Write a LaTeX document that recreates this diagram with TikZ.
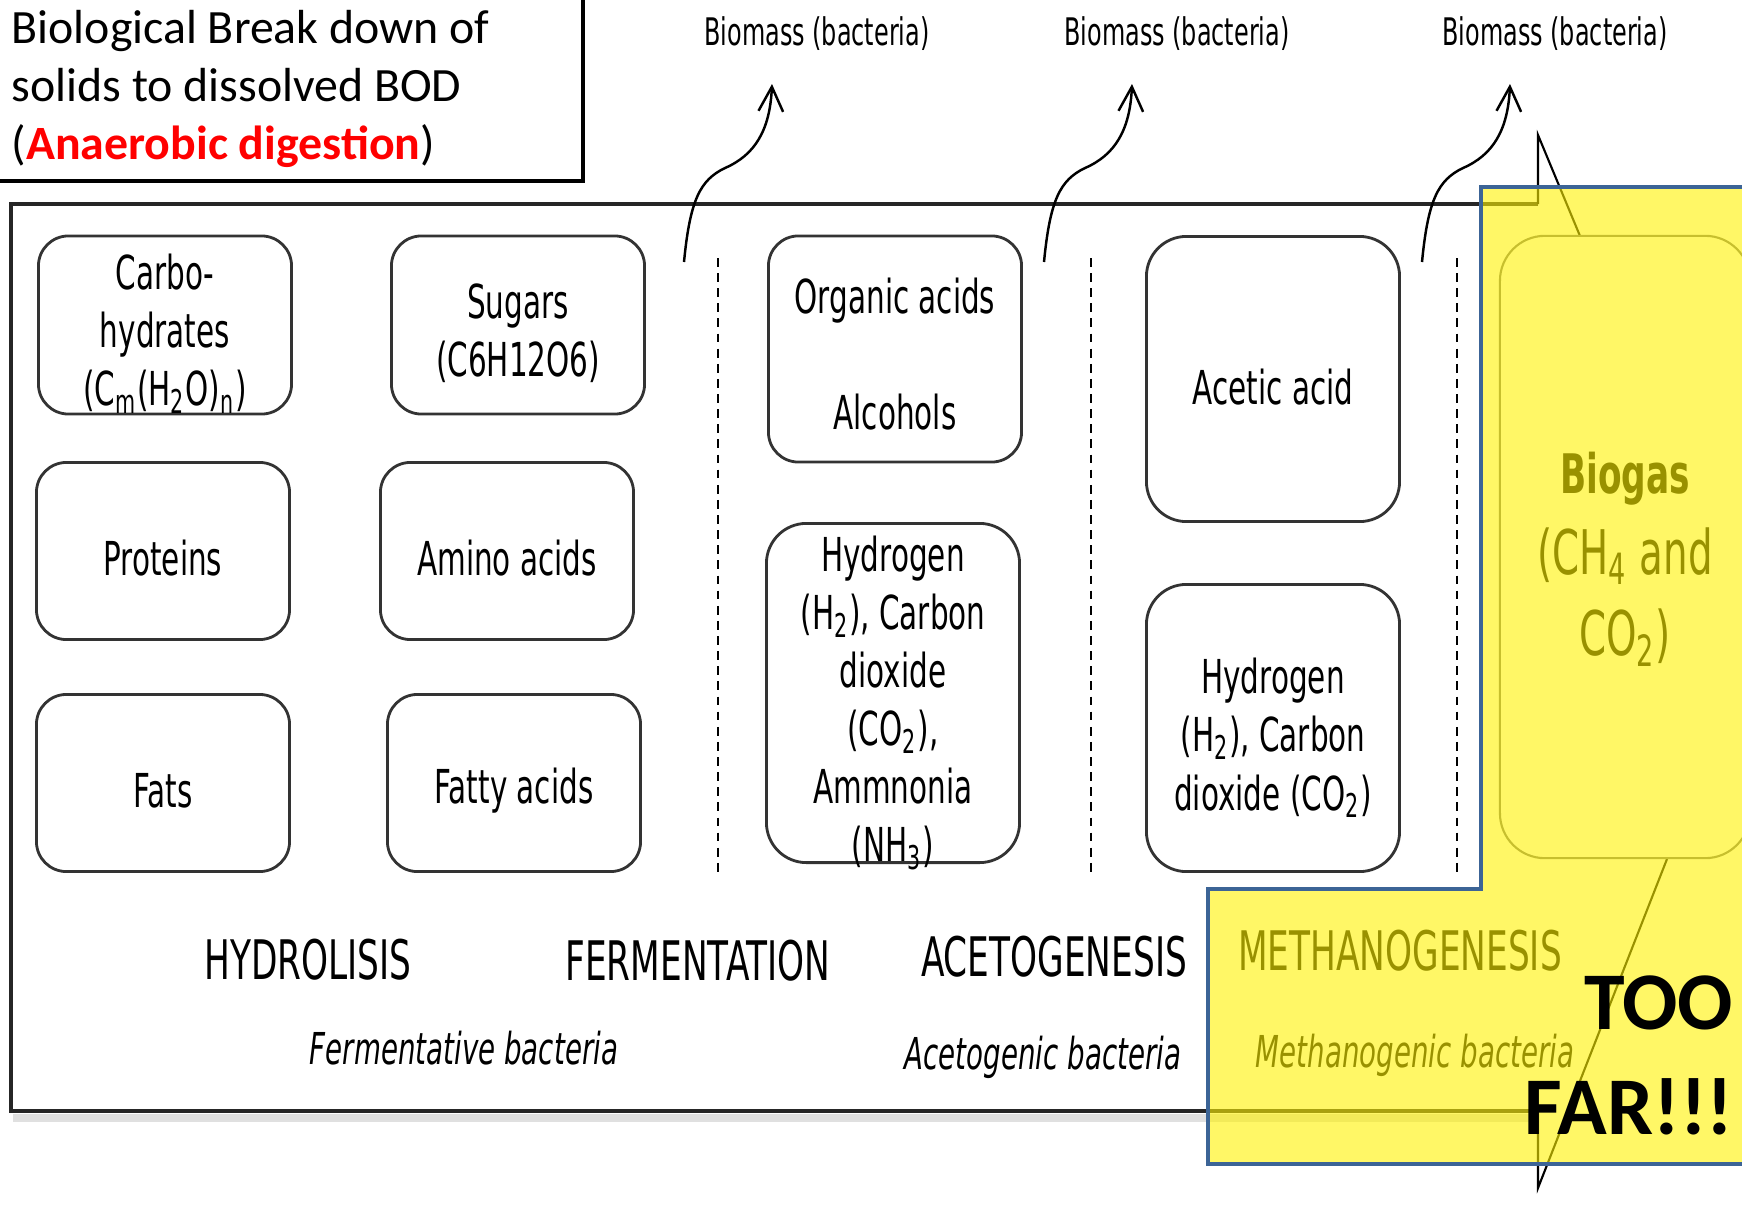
\documentclass[tikz,border=0pt]{standalone}
\usepackage{fontspec}
\setmainfont{Carlito}
\newfontfamily\dgfont[FakeStretch=0.63]{DejaVu Sans}
\usepackage{tikz}
\usetikzlibrary{arrows.meta}
\definecolor{calloutblue}{RGB}{60,100,150}
\definecolor{titlered}{RGB}{255,0,0}
\newcommand{\boxlift}[1][15pt]{\rule{0pt}{#1}}

\begin{document}
\begin{tikzpicture}[x=0.01cm,y=-0.01cm,
  stage/.style={draw=black!80,line width=0.8pt,rounded corners=0.3cm,align=center,inner sep=0pt,
    minimum width=2.53cm,font=\dgfont\fontsize{13.3}{16.5}\selectfont},
  phase/.style={anchor=base,font=\dgfont\fontsize{15.5}{18}\selectfont},
  microbes/.style={anchor=base,font=\dgfont\itshape\fontsize{12.5}{15}\selectfont},
  biomass/.style={anchor=base,font=\dgfont\fontsize{10.8}{12}\selectfont},
  upflow/.style={->,>={Straight Barb[length=7pt,width=7pt]},line width=0.7pt},
  sep/.style={dash pattern=on 2.5pt off 1.8pt,line width=0.6pt}]
\useasboundingbox (0,0) rectangle (1742,1221);
\clip (0,0) rectangle (1742,1221);
% Title box
\draw[line width=0.9pt] (-5,-5) rectangle (583,181);
\node[anchor=north west,align=left,inner sep=0pt,font=\fontsize{13.6}{16.4}\selectfont] (title) at (11,10)
  {Biological Break down of\\solids to dissolved BOD\\(\textcolor{titlered}{\bfseries Anaerobic digestion})};
% Frame
\draw[line width=2.5pt,black!12] (13,1118) -- (1538,1118);
\draw[line width=1.1pt,black!85] (1538,204) -- (11,204) -- (11,1111) -- (1538,1111);
\draw[line width=0.6pt] (1580,236) -- (1538,135) -- (1538,204);
\draw[line width=0.6pt] (1538,1111) -- (1538,1188) -- (1667,859);
% Separators
\foreach \x in {718,1091,1457}
  \draw[sep] (\x,258) -- (\x,872);
% Substrates and products
\node[stage,minimum height=1.78cm] (carbo) at (165,325) {\boxlift[15.2pt]Carbo-\\hydrates\\(C\textsubscript{m}(H\textsubscript{2}O)\textsubscript{n})};
\node[stage,minimum height=1.78cm] (sugars) at (518,325) {\boxlift[14.7pt]Sugars\\(C6H12O6)};
\node[stage,minimum height=1.77cm] (proteins) at (163,551) {\boxlift[14pt]Proteins};
\node[stage,minimum height=1.77cm] (amino) at (507,551) {\boxlift[14pt]Amino acids};
\node[stage,minimum height=1.77cm] (fats) at (163,783) {\boxlift[14pt]Fats};
\node[stage,minimum height=1.77cm] (fatty) at (514,783) {\boxlift[14.6pt]Fatty acids};
\node[stage,minimum height=2.26cm] (organic) at (895,349) {\boxlift[13.2pt]Organic acids\\[16.5pt]Alcohols};
\node[stage,minimum height=3.39cm,rounded corners=0.4cm] (gases) at (893,693) {};
\node[align=center,inner sep=0pt,font=\dgfont\fontsize{13.3}{16.5}\selectfont] (gasestext) at ([yshift=-0.1cm]gases.center)
  {Hydrogen\\(H\textsubscript{2}), Carbon\\dioxide\\(CO\textsubscript{2}),\\Ammnonia\\(NH\textsubscript{3})};
\node[stage,minimum height=2.85cm,rounded corners=0.4cm] (acetic) at (1273,379) {\boxlift[14.6pt]Acetic acid};
\node[stage,minimum height=2.87cm,rounded corners=0.4cm] (hydrogen) at (1273,728)
  {\boxlift[15.8pt]Hydrogen\\(H\textsubscript{2}), Carbon\\dioxide (CO\textsubscript{2})};
\node[stage,minimum width=2.5cm,minimum height=6.22cm,rounded corners=0.45cm,draw=black!55,line width=0.6pt,
  font=\dgfont\fontsize{17.5}{23}\selectfont] (biogas) at (1625,547)
  {\boxlift[18.6pt]{\bfseries\fontsize{15.5}{23}\selectfont Biogas}\\(CH\textsubscript{4} and\\CO\textsubscript{2})};
% Phases
\node[phase] (hydrolisis) at (308,979) {HYDROLISIS};
\node[phase] (fermentation) at (698,980) {FERMENTATION};
\node[phase] (acetogenesis) at (1054,976) {ACETOGENESIS};
\node[phase] (methanogenesis) at (1400,970) {METHANOGENESIS};
\node[microbes] (fermbact) at (464,1064) {Fermentative bacteria};
\node[microbes] (acetbact) at (1043,1069) {Acetogenic bacteria};
\node[microbes] (methbact) at (1415,1067) {Methanogenic bacteria};
% Biomass outputs
\foreach \i/\dx in {1/0,2/360,3/738} {
  \node[biomass] (bmass\i) at (817+\dx,45) {Biomass (bacteria)};
  \coordinate (src\i) at (684+\dx,262);
  \coordinate (tip\i) at (772+\dx,84);
  \draw[upflow] (src\i) .. controls (690+\dx,200) and (700+\dx,180) .. (725+\dx,168)
    .. controls (755+\dx,155) and (770+\dx,130) .. (tip\i);
}
% Highlight
\fill[yellow,fill opacity=0.6] (1481,187) -- (1760,187) -- (1760,1164) -- (1208,1164) -- (1208,889) -- (1481,889) -- cycle;
\draw[calloutblue,line width=1.3pt] (1760,187) -- (1481,187) -- (1481,889) -- (1208,889) -- (1208,1164) -- (1760,1164);
\node[anchor=east,align=right,inner sep=0pt,font=\bfseries\fontsize{23.3}{29.9}\selectfont] (toofar) at (1734,1055) {TOO\\FAR!!!};
\end{tikzpicture}
\end{document}
